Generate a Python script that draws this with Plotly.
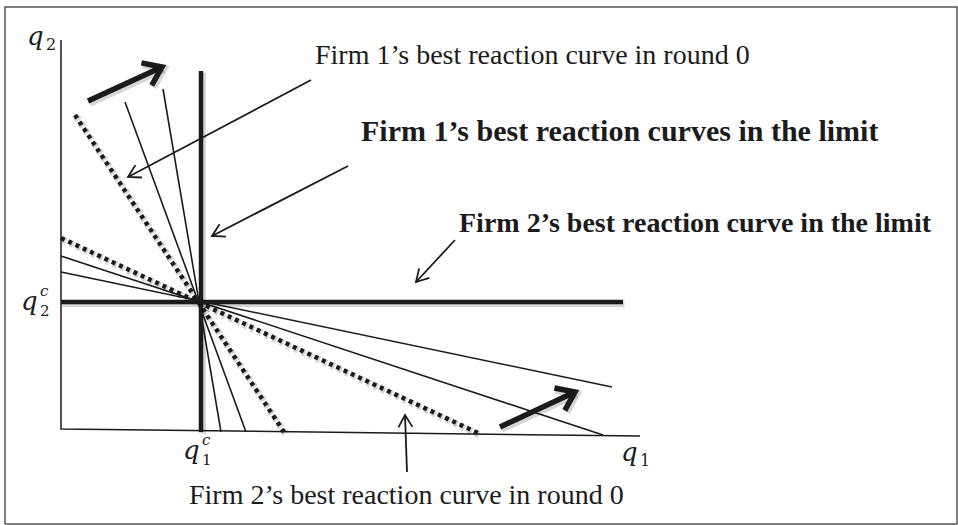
import math
import plotly.graph_objects as go

W, H = 958, 525

# Equilibrium point (q1c, q2c) in drawing units
EQ = (201, 302)

# Axes: origin, top of q2 axis, right end of q1 axis
AXIS_ORIGIN = (61, 429)
AXIS_Q2_TOP = (61, 40)
AXIS_Q1_END = (640, 436)

# Limit best reaction curves (thick)
LIMIT_FIRM1 = [(201, 71), (201, 432)]
LIMIT_FIRM2 = [(61, 302), (623, 302)]

# Round-0 best reaction curves (dotted)
ROUND0_FIRM1 = [(75, 115), (284, 432)]
ROUND0_FIRM2 = [(61, 238), (480, 434)]

# Intermediate rounds (thin)
MID_FIRM1 = [[(125, 102), (246, 432)], [(163, 89), (221, 432)]]
MID_FIRM2 = [[(61, 256), (603, 435)], [(61, 272), (612, 387)]]

# Rotation arrows (thick)
ROTATION_ARROWS = [[(88, 101), (162, 67)], [(500, 427), (575, 392)]]

# Callout arrows (thin): tail, tip
CALLOUTS = [
    [(311, 80), (128, 177)],
    [(348, 166), (212, 236)],
    [(455, 240), (416, 282)],
    [(407, 472), (405, 415)],
]

# text, left x, centre y, bold, font size
LABELS = [
    ("Firm 1\u2019s best reaction curve in round 0", 313, 54, False, 28),
    ("Firm 1\u2019s best reaction curves in the limit", 359, 130, True, 30),
    ("Firm 2\u2019s best reaction curve in the limit", 457, 222, True, 28),
    ("Firm 2\u2019s best reaction curve in round 0", 187, 494, False, 28),
]

INK = "#1b1b1b"
SHADOW = "rgba(0,0,0,0.16)"
SERIF = "Liberation Serif"
MATH = "DejaVu Serif"

fig = go.Figure()


def add_line(pts, width, color=INK, dash="solid", shadow=False):
    xs = [p[0] for p in pts]
    ys = [p[1] for p in pts]
    if shadow:
        fig.add_trace(go.Scatter(
            x=[v + 1.5 for v in xs], y=[v + 1.8 for v in ys], mode="lines",
            line=dict(color=SHADOW, width=width + 2.5, dash=dash),
            hoverinfo="skip", showlegend=False))
    fig.add_trace(go.Scatter(
        x=xs, y=ys, mode="lines", line=dict(color=color, width=width, dash=dash),
        hoverinfo="skip", showlegend=False))


def add_arrow(tail, tip, width, head_len, half_angle, shadow=False):
    add_line([tail, tip], width, shadow=shadow)
    ang = math.atan2(tip[1] - tail[1], tip[0] - tail[0])
    half = math.radians(half_angle)
    left = (tip[0] + head_len * math.cos(ang + math.pi - half),
            tip[1] + head_len * math.sin(ang + math.pi - half))
    right = (tip[0] + head_len * math.cos(ang + math.pi + half),
             tip[1] + head_len * math.sin(ang + math.pi + half))
    add_line([left, tip, right], width, shadow=shadow)


# Frame around the figure
add_line([(5, 524), (5, 7), (957, 7), (957, 524), (5, 524)], 1.5, color="#555555")

# Axes
add_line([AXIS_Q2_TOP, AXIS_ORIGIN, AXIS_Q1_END], 1.5)

# Intermediate rounds
for seg in MID_FIRM1 + MID_FIRM2:
    add_line(seg, 1.6)

# Round-0 curves
add_line(ROUND0_FIRM1, 4.5, dash="4px,4px", shadow=True)
add_line(ROUND0_FIRM2, 4.5, dash="4px,4px", shadow=True)

# Limit curves
add_line(LIMIT_FIRM1, 4.5, shadow=True)
add_line(LIMIT_FIRM2, 4.5, shadow=True)

# Rotation arrows
for tail, tip in ROTATION_ARROWS:
    add_arrow(tail, tip, 5.5, 21, 36, shadow=True)

# Callout arrows
for tail, tip in CALLOUTS:
    add_arrow(tail, tip, 1.8, 14, 30)

annotations = []
for text, x, y, bold, size in LABELS:
    annotations.append(dict(
        x=x, y=y, xref="x", yref="y", xanchor="left", yanchor="middle",
        text=f"<b>{text}</b>" if bold else text, showarrow=False,
        font=dict(family=SERIF, size=size, color=INK)))


def math_label(x, y, sub, sup=None):
    # italic q followed by an upright subscript, with an optional superscript
    # stacked directly above the subscript
    annotations.append(dict(x=x + 8, y=y, xref="x", yref="y", xanchor="right",
                            yanchor="middle", text="<i>q</i>", showarrow=False,
                            borderpad=0, font=dict(family=MATH, size=26, color=INK)))
    if sup:
        annotations.append(dict(x=x + 8, y=y - 0.5, xref="x", yref="y",
                                xanchor="left", yanchor="middle", align="left",
                                text=f"<i>{sup}</i><br>{sub}", showarrow=False,
                                borderpad=0, font=dict(family=MATH, size=15, color=INK)))
    else:
        annotations.append(dict(x=x + 8, y=y + 8, xref="x", yref="y",
                                xanchor="left", yanchor="middle", text=sub,
                                showarrow=False, borderpad=0,
                                font=dict(family=MATH, size=16, color=INK)))


math_label(37, 36, "2")
math_label(31, 301, "2", "c")
math_label(193, 450, "1", "c")
math_label(631, 452, "1")

fig.update_layout(
    width=W, height=H, margin=dict(l=0, r=0, t=0, b=0),
    paper_bgcolor="white", plot_bgcolor="white",
    xaxis=dict(range=[0, W], visible=False, fixedrange=True),
    yaxis=dict(range=[H, 0], visible=False, fixedrange=True),
    annotations=annotations, showlegend=False,
)

fig.write_html("out.html")
